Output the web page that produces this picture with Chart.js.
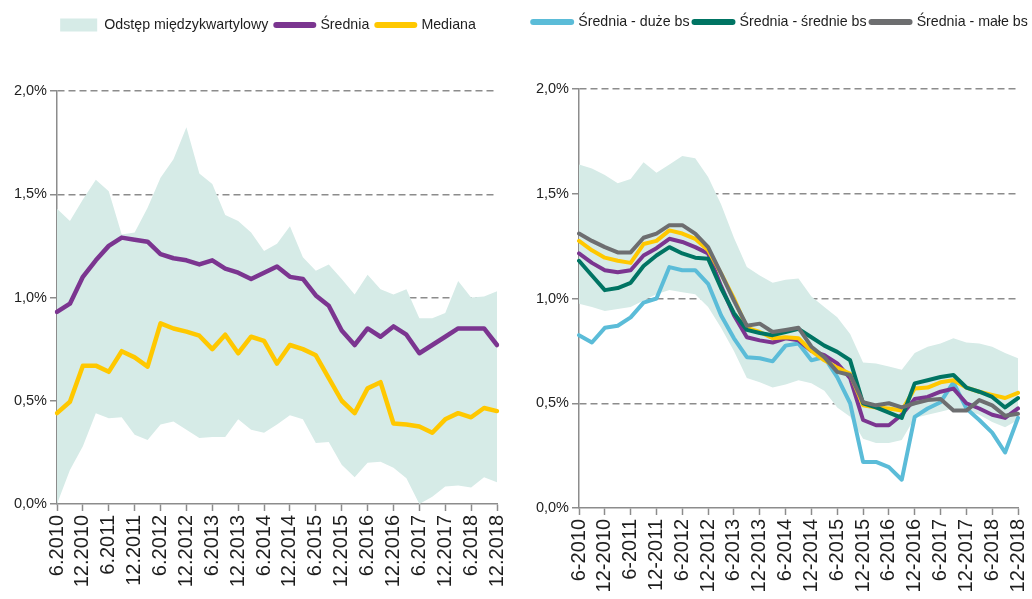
<!DOCTYPE html>
<html>
<head>
<meta charset="utf-8">
<script src="https://cdn.jsdelivr.net/npm/chart.js@4.4.1/dist/chart.umd.min.js"></script>
<style>
  html, body { margin: 0; padding: 0; background: #fff; }
  #wrap { position: relative; width: 1032px; height: 599px; overflow: hidden; }
  canvas { position: absolute; top: 0; }
  #left { left: 0; }
  #right { left: 496px; }
</style>
</head>
<body>
<div id="wrap">
  <canvas id="left" width="516" height="599"></canvas>
  <canvas id="right" width="536" height="599"></canvas>
</div>
<script>
// quarterly observations
const quarters = ['6.2010', '9.2010', '12.2010', '3.2011', '6.2011', '9.2011', '12.2011', '3.2012', '6.2012',
  '9.2012', '12.2012', '3.2013', '6.2013', '9.2013', '12.2013', '3.2014', '6.2014', '9.2014', '12.2014',
  '3.2015', '6.2015', '9.2015', '12.2015', '3.2016', '6.2016', '9.2016', '12.2016', '3.2017', '6.2017',
  '9.2017', '12.2017', '3.2018', '6.2018', '9.2018', '12.2018'];

const tickLabelsLeft = ['6.2010', '12.2010', '6.2011', '12.2011', '6.2012', '12.2012', '6.2013', '12.2013',
  '6.2014', '12.2014', '6.2015', '12.2015', '6.2016', '12.2016', '6.2017', '12.2017', '6.2018', '12.2018'];
const tickLabelsRight = ['6-2010', '12-2010', '6-2011', '12-2011', '6-2012', '12-2012', '6-2013', '12-2013',
  '6-2014', '12-2014', '6-2015', '12-2015', '6-2016', '12-2016', '6-2017', '12-2017', '6-2018', '12-2018'];

// left panel (%)
const iqrUpperL = [1.43, 1.37, 1.475, 1.57, 1.515, 1.305, 1.315, 1.435, 1.58, 1.67, 1.825, 1.60, 1.55, 1.40, 1.37,
  1.315, 1.225, 1.26, 1.345, 1.195, 1.13, 1.16, 1.09, 1.015, 1.11, 1.04, 1.015, 1.04, 0.90, 0.90, 0.925, 1.08,
  1.00, 1.005, 1.03];
const iqrLowerL = [0.0, 0.165, 0.28, 0.44, 0.415, 0.42, 0.335, 0.31, 0.385, 0.40, 0.36, 0.32, 0.325, 0.325, 0.41,
  0.36, 0.345, 0.385, 0.43, 0.41, 0.295, 0.30, 0.19, 0.13, 0.20, 0.205, 0.175, 0.125, 0.0, 0.035, 0.085, 0.09,
  0.08, 0.13, 0.105];
const meanL = [0.93, 0.97, 1.10, 1.18, 1.25, 1.29, 1.28, 1.27, 1.21, 1.19, 1.18, 1.16, 1.18, 1.14, 1.12, 1.09,
  1.12, 1.15, 1.10, 1.09, 1.01, 0.96, 0.84, 0.77, 0.85, 0.81, 0.86, 0.82, 0.73, 0.77, 0.81, 0.85, 0.85, 0.85, 0.77];
const medianL = [0.44, 0.495, 0.67, 0.67, 0.64, 0.74, 0.71, 0.665, 0.875, 0.85, 0.835, 0.815, 0.75, 0.82, 0.73,
  0.81, 0.79, 0.68, 0.77, 0.75, 0.72, 0.61, 0.50, 0.44, 0.56, 0.59, 0.39, 0.385, 0.375, 0.345, 0.41, 0.44, 0.42,
  0.465, 0.45];

// right panel (%)
const iqrUpperR = [1.64, 1.62, 1.59, 1.55, 1.57, 1.65, 1.60, 1.64, 1.68, 1.67, 1.58, 1.45, 1.29, 1.15, 1.11, 1.075,
  1.09, 1.095, 1.01, 0.96, 0.91, 0.83, 0.695, 0.69, 0.675, 0.66, 0.74, 0.77, 0.785, 0.81, 0.79, 0.785, 0.77,
  0.74, 0.715];
const iqrLowerR = [0.975, 0.96, 0.94, 0.95, 0.96, 0.99, 1.02, 1.04, 1.03, 1.02, 0.96, 0.86, 0.75, 0.62, 0.60,
  0.575, 0.59, 0.61, 0.595, 0.56, 0.48, 0.435, 0.33, 0.31, 0.31, 0.325, 0.43, 0.445, 0.46, 0.475, 0.465, 0.445,
  0.41, 0.385, 0.42];
const meanR = [1.215, 1.17, 1.135, 1.125, 1.135, 1.205, 1.24, 1.285, 1.27, 1.245, 1.215, 1.06, 0.92, 0.815, 0.80,
  0.79, 0.81, 0.80, 0.75, 0.73, 0.69, 0.62, 0.42, 0.395, 0.395, 0.445, 0.52, 0.53, 0.555, 0.57, 0.50, 0.475,
  0.445, 0.43, 0.475];
const medianR = [1.275, 1.23, 1.195, 1.18, 1.17, 1.26, 1.275, 1.325, 1.31, 1.285, 1.23, 1.12, 1.0, 0.86, 0.84,
  0.81, 0.815, 0.81, 0.75, 0.705, 0.67, 0.64, 0.49, 0.48, 0.475, 0.465, 0.57, 0.575, 0.60, 0.61, 0.575, 0.555,
  0.54, 0.525, 0.55];
const largeBs = [0.825, 0.79, 0.86, 0.87, 0.91, 0.98, 1.00, 1.15, 1.135, 1.135, 1.07, 0.92, 0.81, 0.72, 0.715,
  0.70, 0.775, 0.785, 0.705, 0.72, 0.625, 0.50, 0.22, 0.22, 0.195, 0.135, 0.435, 0.475, 0.505, 0.60, 0.475, 0.42,
  0.36, 0.265, 0.43];
const mediumBs = [1.18, 1.11, 1.04, 1.05, 1.075, 1.155, 1.205, 1.245, 1.215, 1.195, 1.19, 1.05, 0.93, 0.85, 0.835,
  0.825, 0.84, 0.855, 0.815, 0.775, 0.745, 0.705, 0.50, 0.48, 0.455, 0.43, 0.595, 0.61, 0.625, 0.635, 0.575,
  0.555, 0.53, 0.48, 0.525];
const smallBs = [1.31, 1.275, 1.245, 1.22, 1.22, 1.29, 1.31, 1.35, 1.35, 1.31, 1.245, 1.12, 0.99, 0.87, 0.88,
  0.84, 0.85, 0.86, 0.77, 0.72, 0.65, 0.635, 0.505, 0.49, 0.50, 0.48, 0.50, 0.515, 0.52, 0.465, 0.465, 0.515,
  0.49, 0.44, 0.45];

const BAND = '#d6ebe7';
const PURPLE = '#7b3590';
const YELLOW = '#ffc800';
const LIGHTBLUE = '#5bbcd8';
const TEAL = '#007463';
const GREY = '#6d6e70';
const AXIS = '#8c8c8c';
const SANS = "'Liberation Sans', Arial, sans-serif";

Chart.defaults.font.family = SANS;
Chart.defaults.color = '#1e1e1e';

// legend: fixed height, one row, centred on a given x
const legendFit = {
  id: 'legendFit',
  beforeInit(chart, args, opts) {
    const legend = chart.legend;
    const fit = legend.fit;
    legend.fit = function () {
      this.maxWidth = 2000;
      fit.call(this);
      this.height = opts.height;
    };
  },
  afterLayout(chart, args, opts) {
    const legend = chart.legend;
    legend.left = opts.center - 600;
    legend.right = opts.center + 600;
    legend.width = 1200;
  }
};

const bandSets = (upper, lower) => [
  {
    label: 'Odstęp międzykwartylowy', data: upper, legendBox: true,
    borderWidth: 0, borderColor: 'transparent', backgroundColor: BAND, fill: '+1', order: 10
  },
  {
    label: 'iqr-lower', data: lower, noLegend: true,
    borderWidth: 0, borderColor: 'transparent', backgroundColor: BAND, fill: false, order: 11
  }
];

const lineSet = (label, data, color, order, width) => ({
  label, data, borderColor: color, backgroundColor: color, borderWidth: width,
  fill: false, order, borderJoinStyle: 'round', borderCapStyle: 'round'
});

const makeOptions = (p) => ({
  responsive: false,
  animation: false,
  devicePixelRatio: 1,
  layout: { padding: { left: 0, right: p.padRight, top: 10, bottom: 0 } },
  elements: { point: { radius: 0, hoverRadius: 0 }, line: { tension: 0 } },
  plugins: {
    tooltip: { enabled: false },
    filler: { drawTime: 'beforeDatasetsDraw' },
    legendFit: { height: p.top - 10, center: p.legendCenter },
    legend: {
      position: 'top',
      labels: {
        usePointStyle: true,
        pointStyleWidth: p.boxW,
        boxHeight: 13,
        padding: p.itemGap,
        font: { size: 14.2, family: SANS },
        color: '#1e1e1e',
        sort: (a, b) => a.datasetIndex - b.datasetIndex,
        generateLabels(chart) {
          const items = Chart.defaults.plugins.legend.labels.generateLabels(chart);
          return items.filter(it => {
            const ds = chart.data.datasets[it.datasetIndex];
            return !ds.noLegend && (!p.legendOnly || p.legendOnly.includes(ds.label));
          }).map(it => {
            const ds = chart.data.datasets[it.datasetIndex];
            if (ds.legendBox) {
              it.pointStyle = 'rect';
              it.lineWidth = 0;
              it.fillStyle = ds.backgroundColor;
            } else {
              it.pointStyle = 'line';
              it.lineWidth = 6;
              it.strokeStyle = ds.borderColor;
              it.lineCap = 'round';
            }
            return it;
          });
        }
      }
    }
  },
  scales: {
    x: {
      type: 'category',
      afterFit: (s) => {
        s.height = p.xHeight;
        s.paddingLeft = 0;
        s.paddingRight = 0;
      },
      grid: {
        drawOnChartArea: false,
        drawTicks: true,
        tickLength: 7,
        tickWidth: 1.5,
        tickColor: (ctx) => (ctx.index % 2 === 0 ? AXIS : 'transparent')
      },
      border: { display: true, color: AXIS, width: 1.5 },
      ticks: {
        autoSkip: false,
        maxRotation: 90,
        minRotation: 90,
        padding: 4,
        font: { size: 20, family: SANS },
        callback: (value, index) => (index % 2 === 0 ? p.tickLabels[index / 2] : '')
      }
    },
    y: {
      min: 0,
      max: 2,
      afterFit: (s) => { s.width = p.yWidth; },
      grid: {
        color: (ctx) => (ctx.tick && ctx.tick.value === 0 ? 'transparent' : AXIS),
        lineWidth: 1.5,
        tickColor: AXIS,
        tickLength: 7,
        tickWidth: 1.5
      },
      border: { display: true, color: AXIS, width: 1.5, dash: [7, 4] },
      ticks: {
        stepSize: 0.5,
        padding: 3,
        font: { size: 14.5, family: SANS },
        callback: (v) => v.toFixed(1).replace('.', ',') + '%'
      }
    }
  }
});

// left panel: IQR, mean, median
new Chart(document.getElementById('left'), {
  type: 'line',
  plugins: [legendFit],
  data: {
    labels: quarters,
    datasets: [
      ...bandSets(iqrUpperL, iqrLowerL),
      lineSet('Średnia', meanL, PURPLE, 2, 4.5),
      lineSet('Mediana', medianL, YELLOW, 1, 4.5)
    ]
  },
  options: makeOptions({
    padRight: 19, yWidth: 57, xHeight: 95, top: 91, legendCenter: 268,
    boxW: 37, itemGap: 8, tickLabels: tickLabelsLeft
  })
});

// right panel: mean by bank size
new Chart(document.getElementById('right'), {
  type: 'line',
  plugins: [legendFit],
  data: {
    labels: quarters,
    datasets: [
      ...bandSets(iqrUpperR, iqrLowerR),
      lineSet('Średnia', meanR, PURPLE, 5, 4),
      lineSet('Mediana', medianR, YELLOW, 4, 4),
      lineSet('Średnia - duże bs', largeBs, LIGHTBLUE, 6, 4),
      lineSet('Średnia - średnie bs', mediumBs, TEAL, 3, 4),
      lineSet('Średnia - małe bs', smallBs, GREY, 2, 4)
    ]
  },
  options: makeOptions({
    padRight: 14, yWidth: 83, xHeight: 91, top: 89, legendCenter: 284.5,
    boxW: 38, itemGap: 5, tickLabels: tickLabelsRight,
    legendOnly: ['Średnia - duże bs', 'Średnia - średnie bs', 'Średnia - małe bs']
  })
});
</script>
</body>
</html>
